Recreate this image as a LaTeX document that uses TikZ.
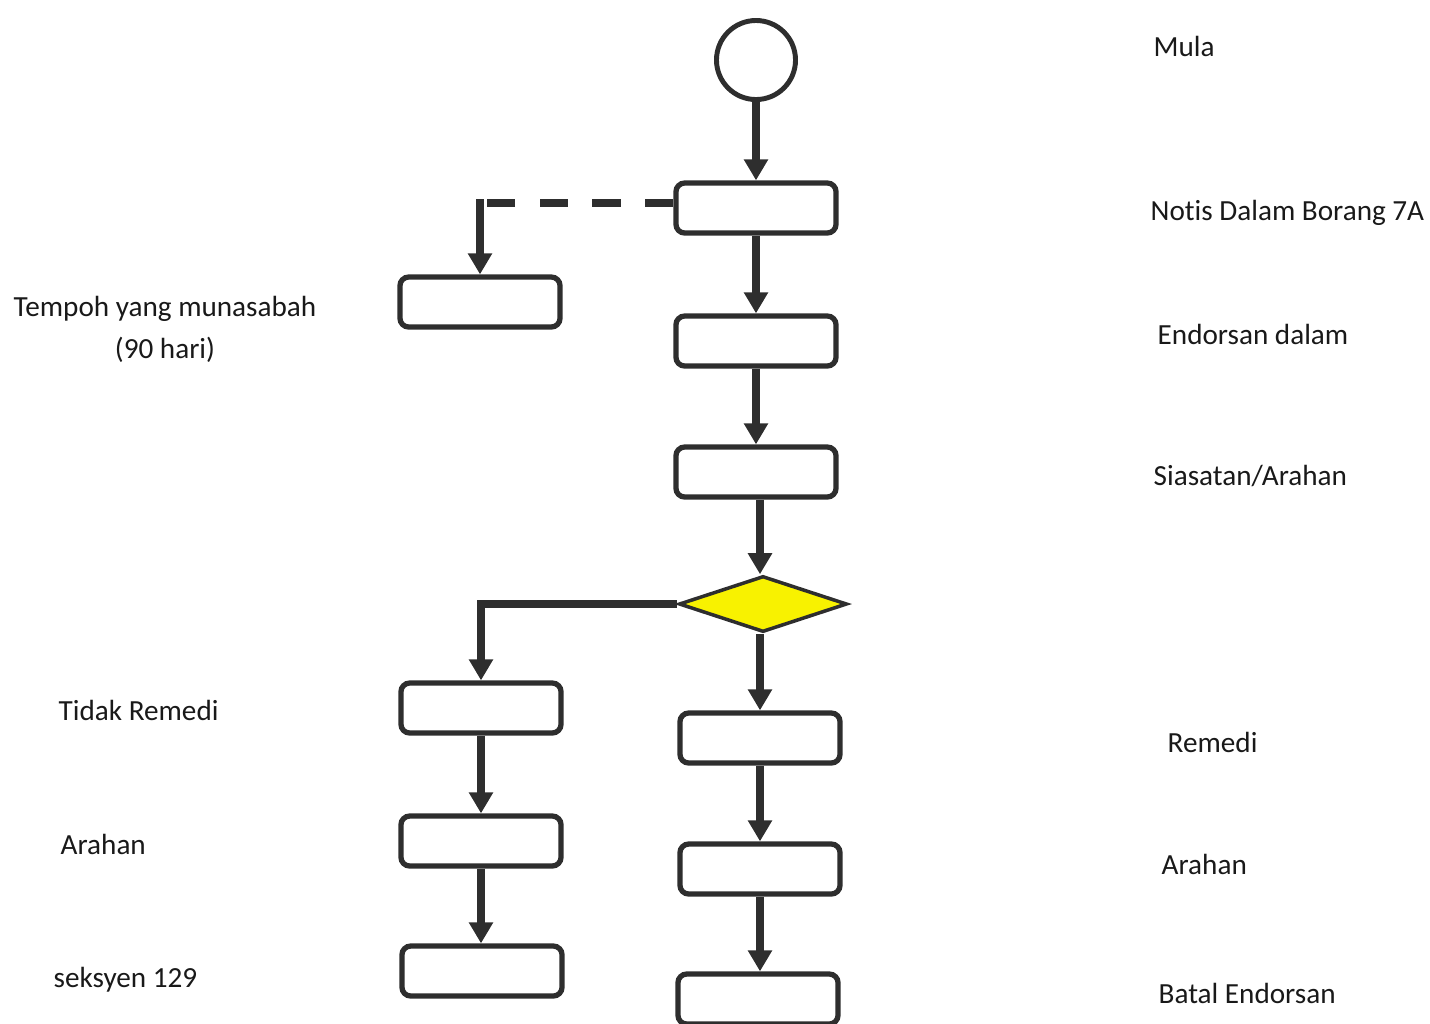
\documentclass[tikz,border=0pt]{standalone}
\usepackage{fontspec}
\setmainfont{Carlito}[Ligatures=NoCommon]
\usetikzlibrary{positioning, arrows.meta, shapes.geometric}
\definecolor{linegray}{HTML}{2E2E2E}
\definecolor{diayellow}{HTML}{F8F200}

\begin{document}
\begin{tikzpicture}[
    x=0.01cm, y=-0.01cm,
    % Flowchart styles
    procbox/.style={
        rectangle,
        rounded corners=2.5pt,
        draw=linegray,
        line width=1.5pt,
        fill=white,
        minimum width=1.6cm,
        minimum height=0.5cm,
        inner sep=0pt
    },
    startcircle/.style={
        circle,
        draw=linegray,
        line width=1.4pt,
        fill=white,
        minimum size=0.79cm,
        inner sep=0pt
    },
    decision/.style={
        diamond,
        draw=linegray,
        line width=1pt,
        fill=diayellow,
        minimum width=1.68cm,
        minimum height=0.56cm,
        inner sep=0pt
    },
    flowarrow/.style={
        -{Triangle[width=6.6pt, length=6pt]},
        line width=2.2pt,
        linegray
    },
    dashline/.style={
        line width=2.2pt,
        linegray,
        dash pattern=on 8pt off 7pt
    },
    sidelabel/.style={
        font=\fontsize{8.3}{10}\selectfont,
        text=black!90,
        inner sep=0pt,
        anchor=base west
    }
]
\useasboundingbox (0,0) rectangle (1430,1023);

% === Main column ===
\node[startcircle] (mula) at (756, 60) {};
\node[procbox] (notis) at (756, 208) {};
\node[procbox] (endorsan) at (756, 341) {};
\node[procbox] (siasatan) at (756, 472) {};
\node[decision] (keputusan) at (763, 604) {};

% === Right branch: Remedi ===
\node[procbox] (remedi) at (760, 738) {};
\node[procbox] (arahanR) at (760, 869) {};
\node[procbox] (batal) at (758, 999) {};

% === Left branch ===
\node[procbox] (tempoh) at (480, 302) {};
\node[procbox] (tidak) at (481, 708) {};
\node[procbox] (arahanL) at (481, 841) {};
\node[procbox] (seksyen) at (482, 971) {};

% === Arrows ===
\draw[flowarrow] (mula) -- (notis);
\draw[flowarrow] (notis) -- (endorsan);
\draw[flowarrow] (endorsan) -- (siasatan);
\draw[flowarrow] (siasatan.south -| remedi) -- (keputusan.north -| remedi);
\draw[flowarrow] (keputusan.south -| remedi) -- (remedi.north);
\draw[flowarrow] (remedi) -- (arahanR);
\draw[flowarrow] (arahanR.south) -- (batal.north -| arahanR);
\draw[flowarrow] (keputusan.west) -| (tidak);
\draw[flowarrow] (tidak) -- (arahanL);
\draw[flowarrow] (arahanL.south) -- (seksyen.north -| arahanL);

% dashed link to tempoh
\coordinate (belok) at ([yshift=0.05cm]tempoh.north |- notis.west);
\draw[dashline] ([yshift=0.05cm]notis.west) -- (belok);
\draw[flowarrow, line cap=butt] ([yshift=1.1pt]belok) -- (tempoh);

% === Labels, right ===
\node[sidelabel] at (1153, 56) {Mula};
\node[sidelabel] at (1150, 220) {Notis Dalam Borang 7A};
\node[sidelabel] at (1157, 344) {Endorsan dalam};
\node[sidelabel] at (1153, 485) {Siasatan/Arahan};
\node[sidelabel] at (1167, 752) {Remedi};
\node[sidelabel] at (1161, 874) {Arahan};
\node[sidelabel] at (1158, 1003) {Batal Endorsan};

% === Labels, left ===
\node[sidelabel, anchor=center, align=center,
      font=\fontsize{8.3}{12}\selectfont] at (165, 329)
      {Tempoh yang munasabah\\(90 hari)};
\node[sidelabel] at (58, 720) {Tidak Remedi};
\node[sidelabel] at (60, 854) {Arahan};
\node[sidelabel] at (53, 987) {seksyen 129};

\end{tikzpicture}
\end{document}
